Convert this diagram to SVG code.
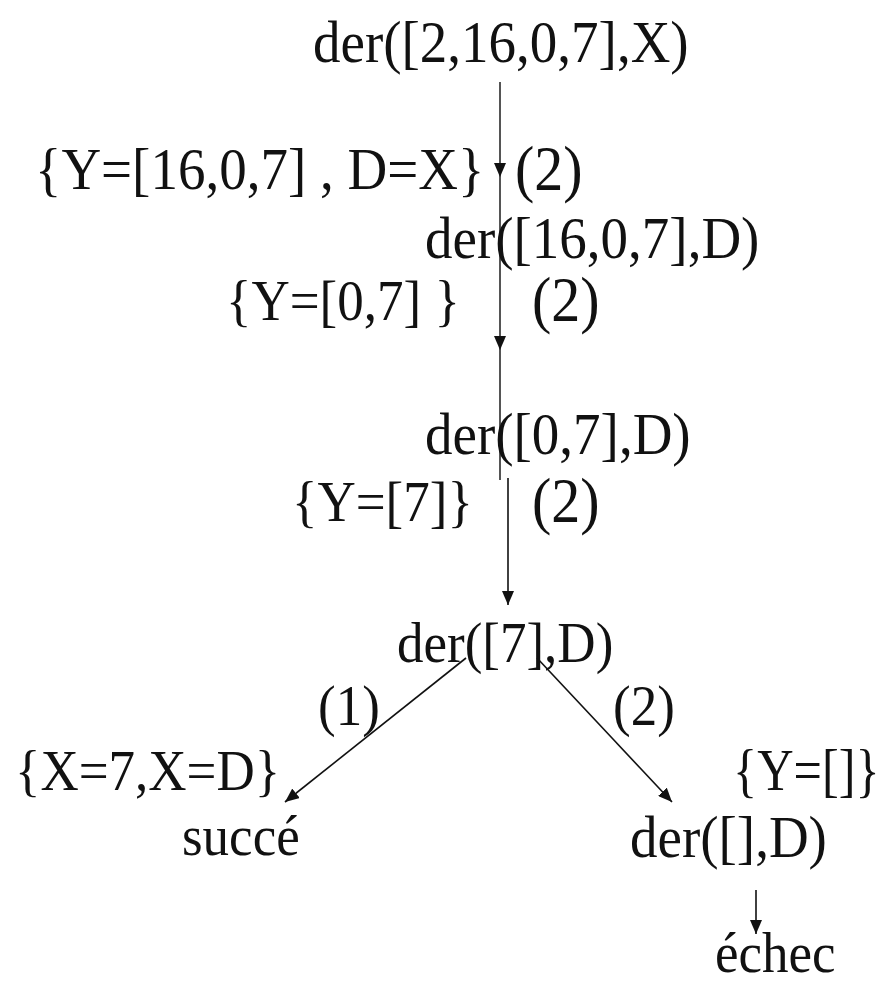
<svg xmlns="http://www.w3.org/2000/svg" width="887" height="995" viewBox="0 0 887 995">
<style>
text{font-family:"Liberation Serif","Times New Roman",serif;font-size:55px;fill:#111}
.s{font-size:53px}
.b{font-size:58px}
.c{stroke:#111;stroke-width:1.6;fill:none}
.g{stroke:#555;stroke-width:2;fill:none}
</style>
<defs>
<marker id="ad" markerWidth="16" markerHeight="12" refX="14" refY="6" orient="auto" markerUnits="userSpaceOnUse" viewBox="0 0 16 12">
<path d="M0,0 L14,6 L0,12 Z" fill="#111"/>
</marker>
</defs>
<rect width="887" height="995" fill="#fff"/>
<g id="connectors">
<path class="g" d="M500,82 V177" marker-end="url(#ad)"/>
<path class="g" d="M500,177 V350" marker-end="url(#ad)"/>
<path class="g" d="M500,350 V480"/>
<path class="c" d="M508,478 V605" marker-end="url(#ad)"/>
<path class="c" d="M466,658 L285,802" marker-end="url(#ad)"/>
<path class="c" d="M537,658 L672,802" marker-end="url(#ad)"/>
<path class="c" d="M756,890 V934" marker-end="url(#ad)"/>
</g>
<g id="n1"><text transform="translate(313 62) scale(1 1.08)">der([2,16,0,7],X)</text></g>
<g id="e1"><text transform="translate(35 189) scale(1 1.08)">{Y=[16,0,7] , D=X}</text><text class="b" transform="translate(515 190) scale(1 1.08)">(2)</text></g>
<g id="n2"><text transform="translate(425 258) scale(1 1.08)">der([16,0,7],D)</text></g>
<g id="e2"><text class="s" transform="translate(226 320) scale(1 1.08)">{Y=[0,7] }</text><text class="b" transform="translate(532 321) scale(1 1.08)">(2)</text></g>
<g id="n3"><text transform="translate(425 454) scale(1 1.08)">der([0,7],D)</text></g>
<g id="e3"><text class="s" transform="translate(292 521) scale(1 1.08)">{Y=[7]}</text><text class="b" transform="translate(532 522) scale(1 1.08)">(2)</text></g>
<g id="n4"><text class="s" transform="translate(397 662) scale(1 1.08)">der([7],D)</text></g>
<g id="e4"><text class="s" transform="translate(318 725) scale(1 1.08)">(1)</text><text class="s" transform="translate(613 725) scale(1 1.08)">(2)</text></g>
<g id="e5"><text class="s" transform="translate(15 790) scale(1 1.08)">{X=7,X=D}</text><text class="s" transform="translate(733 790) scale(0.95 1.13)">{Y=[]}</text></g>
<g id="n5"><text class="s" transform="translate(182 855) scale(1 1.08)">succé</text></g>
<g id="n6"><text transform="translate(630 857) scale(1 1.08)">der([],D)</text></g>
<g id="n7"><text class="s" transform="translate(715 972) scale(1 1.08)">échec</text></g>
</svg>
